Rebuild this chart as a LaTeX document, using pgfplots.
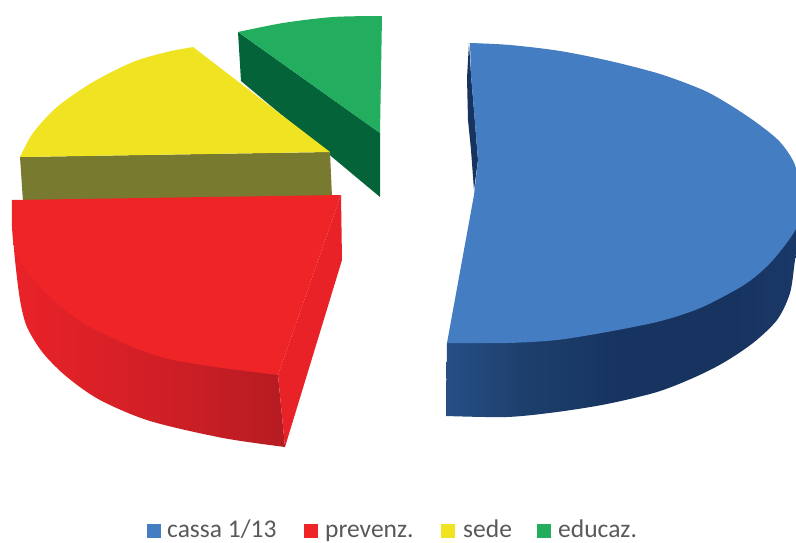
\documentclass[border=0pt]{standalone}
\usepackage{fontspec}
\setmainfont{Carlito}
\usepackage{pgfplots}
\pgfplotsset{compat=1.18}
\definecolor{blueTop}{HTML}{447DC1}
\definecolor{redTop}{HTML}{EE2427}
\definecolor{redEdge}{HTML}{E92228}
\definecolor{yellowTop}{HTML}{F0E422}
\definecolor{olive}{HTML}{787A30}
\definecolor{greenTop}{HTML}{22AE5E}
\definecolor{greenDark}{HTML}{05633A}
\definecolor{navy}{HTML}{17335F}
\definecolor{labelGrey}{HTML}{58595B}
\definecolor{blueA}{HTML}{264F85}
\definecolor{blueB}{HTML}{1D3F6C}
\definecolor{blueC}{HTML}{1A3868}
\definecolor{redA}{HTML}{EA2229}
\definecolor{redB}{HTML}{DB2027}
\definecolor{redC}{HTML}{C91E25}
\definecolor{redD}{HTML}{B51C22}
% side walls of the two large slices
\pgfdeclarehorizontalshading{blueWall}{100bp}{color(0bp)=(blueA);color(25bp)=(blueA);color(36bp)=(blueB);color(50bp)=(navy);color(65bp)=(navy);color(75bp)=(blueC);color(100bp)=(blueC)}
\pgfdeclarehorizontalshading{redWall}{100bp}{color(0bp)=(redA);color(25bp)=(redA);color(40bp)=(redB);color(59bp)=(redC);color(75bp)=(redD);color(100bp)=(redD)}
\begin{document}
\begin{tikzpicture}
\begin{axis}[
  scale only axis, width=796pt, height=543pt,
  xmin=0, xmax=796, ymin=0, ymax=543, y dir=reverse,
  hide axis, line join=round,
]
% keeps the page as large as the whole axis area
\path (axis cs:0,0) rectangle (axis cs:796,543);
% educaz.
\addplot[fill=greenDark, draw=none] coordinates {(238,32) (380,133) (380,197) (241,81)} -- cycle;
\addplot[smooth, fill=greenTop, draw=none] coordinates {(238,32) (283,23) (333,17) (382,16)} -- (axis cs:380,133) -- cycle;
% sede
\addplot[fill=olive, draw=none] coordinates {(20,157) (330,152) (332,197) (23,202)} -- cycle;
\addplot[smooth, fill=yellowTop, draw=none] coordinates {(20,157) (33,133) (57,107) (93,82) (133,62) (167,52) (193,47)} -- (axis cs:330,152) -- cycle;
% prevenz.
\addplot[smooth, shading=redWall, draw=none] coordinates {(13,235) (15,260) (20,300) (27,327) (43,353) (67,377) (100,400) (150,421) (223,438) (285,447)} -- (axis cs:278,375) -- (axis cs:40,280) -- cycle;
\addplot[fill=redEdge, draw=none] coordinates {(341,195) (342,260) (285,447) (278,375)} -- cycle;
\addplot[smooth, fill=redTop, draw=none] coordinates {(278,375) (223,368) (173,360) (140,350) (117,340) (83,323) (50,297) (27,272) (15,250) (12,227) (12,200)} -- (axis cs:341,195) -- cycle;
% cassa 1/13
\addplot[smooth, shading=blueWall, draw=none] coordinates {(446,416) (507,417) (557,412) (607,404) (657,392) (693,378) (723,363) (753,343) (777,320) (790,293) (795,260) (799,235)} -- (axis cs:800,205) -- (axis cs:447,343) -- cycle;
\addplot[fill=navy, draw=none] coordinates {(469,43) (467,78) (468,120) (471,150) (474,190) (478,160) (474,110) (471,75)} -- cycle;
\addplot[smooth, fill=blueTop, draw=none] coordinates {(470,43) (510,45) (560,51) (610,61) (660,74) (703,90) (730,105) (757,123) (780,142) (795,165) (800,195) (798,225) (773,260) (747,283) (713,302) (690,312) (657,322) (607,332) (557,340) (507,343) (447,343)} -- (axis cs:474,195) -- (axis cs:478,160) -- (axis cs:474,110) -- (axis cs:471,75) -- cycle;
% legend keys
\addplot[fill=blueTop, draw=none] coordinates {(147,524) (161,524) (161,538) (147,538)} -- cycle;
\addplot[fill=redTop, draw=none] coordinates {(304,524) (318,524) (318,538) (304,538)} -- cycle;
\addplot[fill=yellowTop, draw=none] coordinates {(441,524) (455,524) (455,538) (441,538)} -- cycle;
\addplot[fill=greenTop, draw=none] coordinates {(537,524) (551,524) (551,538) (537,538)} -- cycle;
% legend labels
\begin{scope}[every node/.style={anchor=base west, inner sep=0pt, text=labelGrey, font=\fontsize{25.5}{27}\selectfont}]
\node at (axis cs:167,537.5) {cassa 1/13};
\node at (axis cs:325,537.5) {prevenz.};
\node at (axis cs:463,537.5) {sede};
\node at (axis cs:558,537.5) {educaz.};
\end{scope}
\end{axis}
\end{tikzpicture}
\end{document}
